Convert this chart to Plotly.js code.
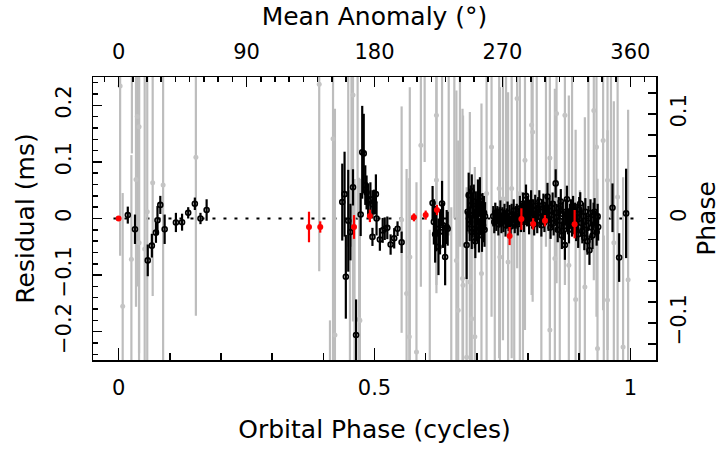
<!DOCTYPE html>
<html>
<head>
<meta charset="utf-8">
<script src="https://cdn.plot.ly/plotly-3.0.1.min.js"></script>
<style>
  html, body { margin: 0; padding: 0; background: #fff; }
  #plot { width: 726px; height: 450px; }
</style>
</head>
<body>
<div id="plot"></div>
<script>
// orbital phase (cycles), residual (ms), error (ms)
const blackX = [
  0.018, 0.032, 0.057, 0.065, 0.073, 0.076, 0.0815, 0.090, 0.112, 0.124, 0.136, 0.149, 0.160, 0.172,
  0.437, 0.4415, 0.444, 0.4487, 0.453, 0.458, 0.464, 0.473, 0.476, 0.479, 0.482, 0.4845, 0.4876, 0.492,
  0.496, 0.499, 0.496, 0.5027, 0.504, 0.5105, 0.516, 0.520, 0.525, 0.5315, 0.5385, 0.545, 0.553,
  0.6135, 0.616, 0.6185, 0.621, 0.625, 0.628, 0.632, 0.634, 0.638, 0.641, 0.643,
  0.680, 0.682, 0.684, 0.686, 0.688, 0.690, 0.692, 0.694, 0.696, 0.698, 0.700, 0.702, 0.704, 0.706,
  0.708, 0.710, 0.711, 0.712, 0.714, 0.715, 0.716, 0.690, 0.697,
  0.732, 0.734, 0.736, 0.738, 0.740, 0.742, 0.744, 0.746, 0.748, 0.750, 0.752, 0.754, 0.756, 0.758,
  0.760, 0.762, 0.764, 0.766, 0.768, 0.770, 0.772, 0.774, 0.776, 0.778, 0.780, 0.782, 0.784, 0.786,
  0.788, 0.790, 0.792, 0.794, 0.796, 0.798, 0.800, 0.802, 0.804, 0.806, 0.808, 0.810, 0.812, 0.814,
  0.816, 0.818, 0.820, 0.822, 0.824, 0.826, 0.828, 0.830, 0.832, 0.834, 0.836, 0.838, 0.840, 0.842,
  0.844, 0.846, 0.848, 0.850, 0.852, 0.854, 0.856, 0.858, 0.860, 0.862, 0.864, 0.866, 0.868, 0.870,
  0.872, 0.874, 0.876, 0.878, 0.880, 0.882, 0.884, 0.886, 0.888, 0.890, 0.892, 0.894, 0.896, 0.898,
  0.900, 0.902, 0.904, 0.906, 0.908, 0.910, 0.912, 0.914, 0.916, 0.918, 0.920, 0.922, 0.924, 0.926,
  0.928, 0.930, 0.932, 0.934, 0.936, 0.937,
  0.965, 0.978, 0.9916
];
const blackY = [
  0.006, -0.019, -0.074, -0.048, -0.025, -0.003, 0.024, -0.019, -0.007, -0.0065, 0.010, 0.026, 0.0, 0.015,
  0.029, 0.043, -0.103, -0.004, -0.024, 0.055, -0.206, 0.007, 0.117, 0.115, 0.059, 0.046, 0.032, 0.034,
  0.025, 0.029, -0.0325, 0.043, 0.0, -0.037, -0.021, -0.018, -0.0165, -0.046, -0.035, -0.018, -0.042,
  0.0275, -0.006, -0.028, -0.018, -0.050, -0.0235, 0.0265, -0.012, -0.068, -0.015, -0.018,
  -0.047, 0.012, 0.041, -0.010, 0.0235, -0.024, 0.006, 0.030, -0.018, 0.018, -0.006, 0.029, -0.030, 0.038,
  0.002, -0.024, 0.015, -0.012, 0.010, -0.020, 0.004, 0.048, -0.040,
  0.004, -0.006, 0.010, -0.002, 0.006, -0.010, 0.002, 0.012, -0.008, 0.004, -0.004, 0.008, -0.012, 0.000,
  0.010, -0.006, 0.004, -0.014, 0.006, -0.002, 0.014, -0.008, 0.002, 0.008, -0.010, 0.004, 0.018, -0.004,
  0.010, 0.026, -0.006, 0.012, 0.040, 0.004, 0.020, -0.008, 0.014, 0.028, 0.002, 0.016, -0.010, 0.022,
  0.006, -0.004, 0.018, 0.030, 0.002, -0.012, 0.012, 0.024, -0.006, 0.008, 0.020, 0.039, -0.002, 0.014,
  -0.016, 0.006, 0.026, -0.008, 0.010, 0.062, 0.002, -0.020, 0.018, -0.004, 0.030, -0.030, 0.008, -0.014,
  -0.047, 0.012, 0.034, -0.006, -0.020, 0.004, 0.014, -0.010, 0.020, -0.004, 0.008, -0.018, 0.002, -0.028,
  0.016, 0.0265, -0.008, -0.022, 0.004, -0.034, 0.012, -0.012, -0.040, 0.000, -0.056, 0.010, -0.016, -0.030,
  0.006, 0.012, -0.008, -0.024, 0.004, -0.015,
  0.019, -0.069, 0.009
];
const blackErr = [
  0.015, 0.026, 0.028, 0.021, 0.018, 0.025, 0.016, 0.026, 0.017, 0.015, 0.010, 0.011, 0.010, 0.019,
  0.068, 0.075, 0.074, 0.090, 0.050, 0.032, 0.063, 0.038, 0.082, 0.070, 0.035, 0.030, 0.030, 0.030,
  0.025, 0.022, 0.016, 0.035, 0.030, 0.020, 0.022, 0.020, 0.020, 0.018, 0.018, 0.013, 0.019,
  0.030, 0.040, 0.050, 0.040, 0.050, 0.040, 0.040, 0.040, 0.050, 0.030, 0.030,
  0.060, 0.035, 0.040, 0.030, 0.035, 0.030, 0.040, 0.030, 0.035, 0.030, 0.035, 0.040, 0.030, 0.035,
  0.030, 0.035, 0.030, 0.030, 0.030, 0.030, 0.025, 0.030, 0.030,
  0.018, 0.020, 0.018, 0.020, 0.016, 0.020, 0.018, 0.020, 0.018, 0.016, 0.020, 0.018, 0.020, 0.018,
  0.020, 0.016, 0.020, 0.018, 0.020, 0.016, 0.020, 0.018, 0.020, 0.018, 0.020, 0.016, 0.022, 0.020,
  0.018, 0.020, 0.018, 0.020, 0.020, 0.018, 0.020, 0.020, 0.018, 0.022, 0.020, 0.018, 0.020, 0.020,
  0.018, 0.022, 0.020, 0.020, 0.018, 0.020, 0.022, 0.020, 0.018, 0.020, 0.022, 0.024, 0.020, 0.022,
  0.020, 0.024, 0.020, 0.022, 0.020, 0.025, 0.024, 0.022, 0.020, 0.024, 0.022, 0.024, 0.022, 0.024,
  0.026, 0.022, 0.024, 0.022, 0.024, 0.022, 0.020, 0.022, 0.020, 0.024, 0.020, 0.022, 0.024, 0.024,
  0.022, 0.020, 0.024, 0.022, 0.024, 0.022, 0.024, 0.022, 0.024, 0.022, 0.026, 0.024, 0.022, 0.024,
  0.022, 0.024, 0.022, 0.024, 0.022, 0.024,
  0.043, 0.043, 0.079
];

const grayX = [
  0.003, 0.008, 0.025, 0.026, 0.034, 0.0365, 0.040, 0.040, 0.051, 0.056, 0.0666, 0.087, 0.151,
  0.392, 0.413, 0.419, 0.4227, 0.4487, 0.452, 0.455, 0.458, 0.461, 0.470, 0.4715, 0.467,
  0.553, 0.5627, 0.569, 0.568, 0.582, 0.5906, 0.621, 0.621, 0.598, 0.608, 0.632, 0.645, 0.650,
  0.660, 0.6635, 0.672, 0.673, 0.6863, 0.680, 0.696, 0.690, 0.709, 0.719, 0.656, 0.667,
  0.7287, 0.7436, 0.745, 0.751, 0.761, 0.768, 0.7787, 0.784, 0.794, 0.807, 0.809, 0.8426, 0.8426,
  0.8524, 0.8557, 0.872, 0.8797, 0.893, 0.911, 0.9285, 0.9337, 0.9357, 0.9467, 0.9553, 0.9553,
  0.9676, 0.975, 0.9857, 0.9955, 0.735, 0.757, 0.773, 0.790, 0.817, 0.826, 0.835, 0.862, 0.886,
  0.901, 0.918, 0.948, 0.962
];
const grayY = [
  0.234, -0.155, -0.072, 0.32, 0.069, 0.18, 0.162, -0.043, -0.054, 0.012, 0.063, 0.059, 0.108,
  0.237, -0.40, 0.141, -0.206, 0.30, -0.30, 0.35, 0.218, -0.33, -0.178, -0.18, 0.30,
  -0.002, -0.1325, -0.068, -0.209, -0.236, 0.1295, 0.068, 0.1825, 0.35, -0.32, 0.30, 0.32, -0.28,
  -0.074, -0.162, -0.106, -0.118, -0.112, -0.245, -0.209, -0.177, -0.097, 0.044, 0.30, 0.35,
  0.1265, 0.053, -0.068, 0.035, -0.077, 0.053, 0.212, 0.044, 0.103, 0.165, 0.153, -0.197, 0.107,
  -0.0707, 0.1855, 0.1825, -0.0825, -0.143, -0.121, 0.191, 0.1265, -0.2297, 0.138, 0.0677, -0.144,
  -0.043, 0.038, -0.227, -0.108, -0.30, 0.32, -0.33, -0.30, 0.33, -0.32, 0.30, -0.33, 0.33,
  -0.30, 0.32, -0.33, 0.30
];
const grayErr = [
  0.30, 0.20, 0.184, 0.205, 0.225, 0.30, 0.40, 0.35, 0.35, 0.30, 0.20, 0.35, 0.28,
  0.33, 0.22, 0.40, 0.40, 0.35, 0.35, 0.40, 0.40, 0.40, 0.25, 0.25, 0.30,
  0.20, 0.22, 0.30, 0.28, 0.30, 0.25, 0.20, 0.30, 0.25, 0.30, 0.30, 0.35, 0.30,
  0.30, 0.30, 0.30, 0.30, 0.30, 0.30, 0.30, 0.25, 0.30, 0.30, 0.30, 0.40,
  0.30, 0.30, 0.30, 0.25, 0.30, 0.30, 0.30, 0.30, 0.30, 0.30, 0.30, 0.30, 0.30,
  0.30, 0.30, 0.30, 0.30, 0.30, 0.30, 0.30, 0.30, 0.30, 0.30, 0.30, 0.30,
  0.25, 0.30, 0.30, 0.30, 0.30, 0.30, 0.35, 0.30, 0.35, 0.30, 0.35, 0.30, 0.30,
  0.35, 0.30, 0.30, 0.30
];

const redX = [0.0, 0.372, 0.394, 0.460, 0.491, 0.577, 0.600, 0.622, 0.764, 0.787, 0.810, 0.833, 0.891];
const redY = [0.0, -0.015, -0.015, -0.015, 0.0046, 0.002, 0.006, 0.015, -0.031, -0.001, -0.0095, -0.004, -0.010];
const redErr = [0.003, 0.027, 0.010, 0.021, 0.011, 0.007, 0.008, 0.009, 0.016, 0.019, 0.010, 0.010, 0.025];

const periodMs = 1.846;      // residual (ms) per phase turn, for the right axis
const xRange = [-0.05, 1.05];
const yRange = [-0.25, 0.25];

const font = { family: 'DejaVu Sans', size: 21, color: '#000' };
const titleFont = { family: 'DejaVu Sans', size: 25, color: '#000' };

const plotData = [
  {
    x: grayX, y: grayY,
    mode: 'markers',
    marker: { color: '#c4c4c4', size: 5 },
    error_y: { type: 'data', array: grayErr, color: '#bdbdbd', thickness: 2.2, width: 0 },
    hoverinfo: 'skip',
  },
  {
    x: blackX, y: blackY,
    mode: 'markers',
    marker: { color: '#000', size: 5, symbol: 'circle-open', line: { width: 1.6, color: '#111' } },
    error_y: { type: 'data', array: blackErr, color: '#000', thickness: 2.2, width: 0 },
  },
  {
    x: redX, y: redY,
    mode: 'markers',
    marker: { color: '#ff0000', size: 6 },
    error_y: { type: 'data', array: redErr, color: '#ff0000', thickness: 2.2, width: 0 },
  },
  {
    // carries the top and right axes
    x: [null], y: [null], xaxis: 'x2', yaxis: 'y2',
    mode: 'markers', hoverinfo: 'skip',
  },
];

const layout = {
  width: 726,
  height: 450,
  showlegend: false,
  paper_bgcolor: '#fff',
  plot_bgcolor: '#fff',
  font: font,
  margin: { l: 93, r: 70, t: 77, b: 90 },
  xaxis: {
    range: xRange,
    tickvals: [0, 0.5, 1],
    ticktext: ['0', '0.5', '1'],
    ticks: 'inside', ticklen: 12, tickwidth: 1.5, tickcolor: '#000',
    minor: { dtick: 0.1, tick0: 0, ticks: 'inside', ticklen: 7, tickwidth: 1.5, tickcolor: '#000', showgrid: false },
    showgrid: false, zeroline: false,
    showline: true, linecolor: '#000', linewidth: 1.5,
    ticklabelstandoff: 8,
    title: { text: 'Orbital Phase (cycles)', font: titleFont, standoff: 22 },
    automargin: false,
  },
  xaxis2: {
    overlaying: 'x', side: 'top', anchor: 'y',
    range: [xRange[0] * 360, xRange[1] * 360],
    tickvals: [0, 90, 180, 270, 360],
    ticks: 'inside', ticklen: 10, tickwidth: 1.5, tickcolor: '#000',
    minor: { dtick: 10, tick0: 0, ticks: 'inside', ticklen: 5, tickwidth: 1.5, tickcolor: '#000', showgrid: false },
    showgrid: false, zeroline: false,
    showline: true, linecolor: '#000', linewidth: 1.5,
    ticklabelstandoff: 8,
    title: { text: 'Mean Anomaly (°)', font: titleFont, standoff: 7 },
    automargin: false,
  },
  yaxis: {
    range: yRange,
    tickvals: [-0.2, -0.1, 0, 0.1, 0.2],
    ticktext: ['\u22120.2', '\u22120.1', '0', '0.1', '0.2'],
    tickangle: -90,
    ticks: 'inside', ticklen: 9, tickwidth: 1.5, tickcolor: '#000',
    minor: { dtick: 0.02, tick0: 0, ticks: 'inside', ticklen: 5, tickwidth: 1.5, tickcolor: '#000', showgrid: false },
    showgrid: false, zeroline: false,
    showline: true, linecolor: '#000', linewidth: 1.5,
    ticklabelstandoff: 12,
    title: { text: 'Residual (ms)', font: titleFont, standoff: 10 },
    automargin: false,
  },
  yaxis2: {
    overlaying: 'y', side: 'right', anchor: 'x',
    range: [yRange[0] / periodMs, yRange[1] / periodMs],
    tickvals: [-0.1, 0, 0.1],
    ticktext: ['\u22120.1', '0', '0.1'],
    tickangle: -90,
    ticks: 'inside', ticklen: 8, tickwidth: 1.5, tickcolor: '#000',
    minor: { dtick: 0.02, tick0: 0, ticks: 'inside', ticklen: 8, tickwidth: 1.5, tickcolor: '#000', showgrid: false },
    showgrid: false, zeroline: false,
    showline: true, linecolor: '#000', linewidth: 1.5,
    ticklabelstandoff: 3,
    title: { text: 'Phase', font: titleFont, standoff: 8 },
    automargin: false,
  },
  shapes: [
    {
      type: 'line', xref: 'x', yref: 'y', layer: 'below',
      x0: -0.01, x1: 1.01, y0: 0, y1: 0,
      line: { color: '#000', width: 2, dash: '3px,8px' },
    },
  ],
};

Plotly.newPlot('plot', plotData, layout, { staticPlot: true });
</script>
</body>
</html>
